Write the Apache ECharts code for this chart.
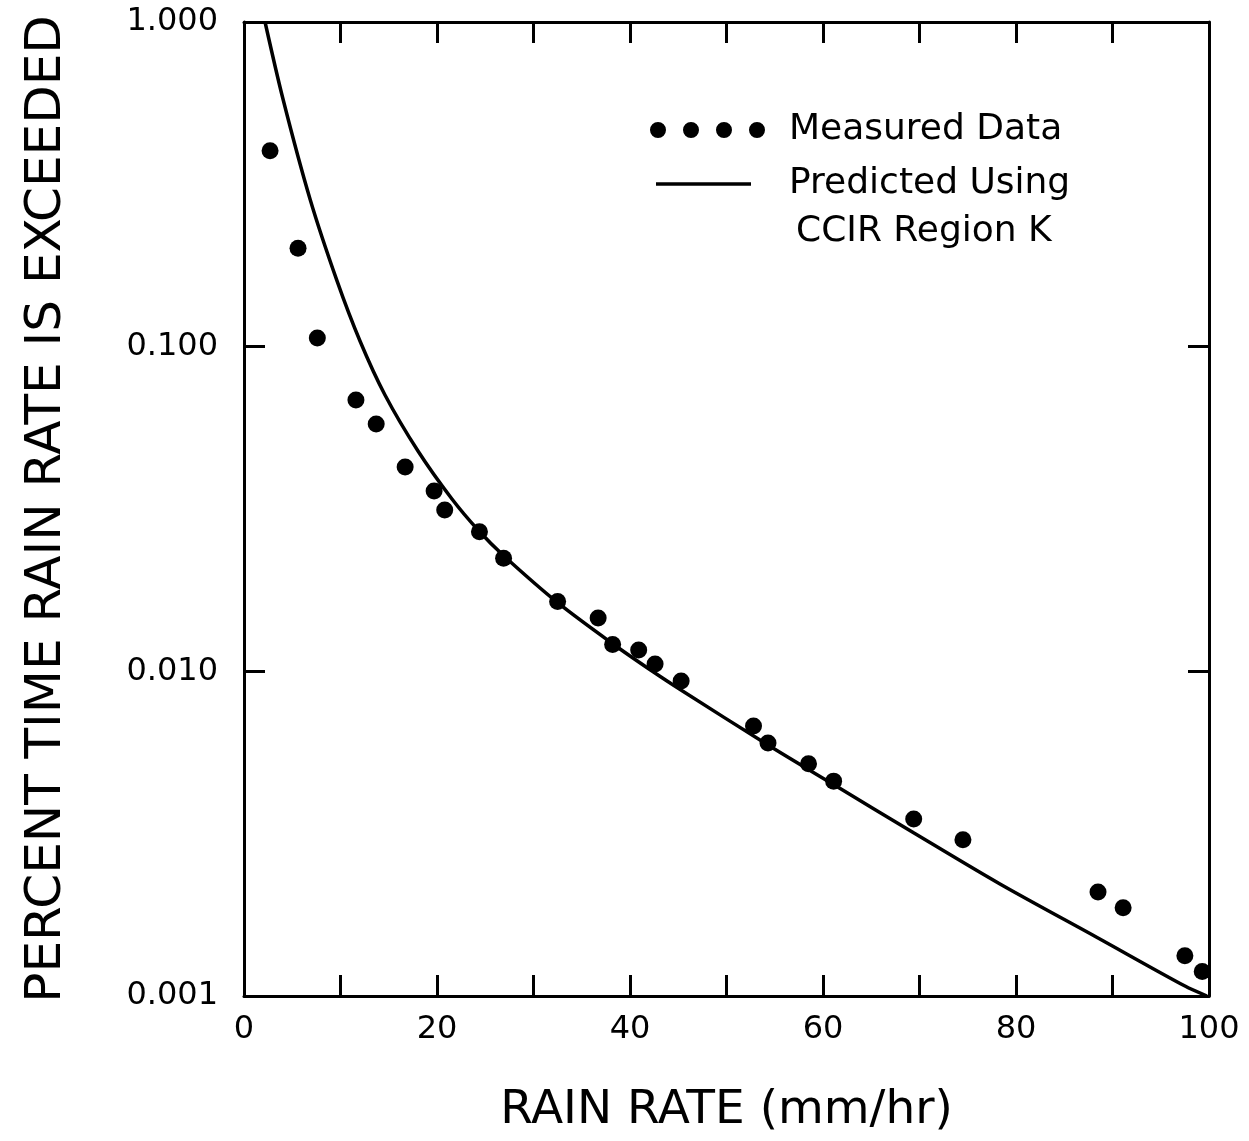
<!DOCTYPE html>
<html>
<head>
<meta charset="utf-8">
<script src="https://cdn.jsdelivr.net/npm/echarts@6/dist/echarts.min.js"></script>
<style>
html,body{margin:0;padding:0;background:#fff;}
#chart{width:1249px;height:1141px;}
</style>
</head>
<body>
<div id="chart"></div>
<script>
// Measured data (rain rate mm/hr, percent time exceeded)
const rainRateMeasured = [2.7, 5.6, 7.6, 11.6, 13.7, 16.7, 19.7, 20.8, 24.4, 26.9, 32.5, 36.7, 38.2, 40.9, 42.6, 45.3, 52.8, 54.3, 58.5, 61.1, 69.4, 74.5, 88.5, 91.1, 97.5, 99.3];
const pctMeasured = [0.401, 0.201, 0.1064, 0.0685, 0.0578, 0.0426, 0.0359, 0.0314, 0.0269, 0.0223, 0.0164, 0.0146, 0.0121, 0.01163, 0.01054, 0.00934, 0.00679, 0.00602, 0.00519, 0.00459, 0.00351, 0.00303, 0.00209, 0.00187, 0.00133, 0.00119];
// Predicted curve (CCIR Region K)
const rainRatePredicted = [2.18, 4.04, 6.84, 9.64, 12.02, 14.61, 18.03, 21.55, 24.35, 26.94, 32.54, 38.24, 42.59, 45.28, 54.30, 61.14, 69.43, 78.34, 88.50, 97.51, 99.79];
const pctPredicted = [1.0, 0.579, 0.285, 0.1594, 0.1041, 0.0710, 0.04772, 0.03395, 0.02705, 0.02266, 0.01624, 0.01214, 0.00988, 0.00876, 0.00593, 0.00447, 0.003177, 0.002213, 0.001509, 0.001073, 0.001];
// Tick labels
const xTickLabels = [0, 20, 40, 60, 80, 100];
const yTickLabels = ['1.000', '0.100', '0.010', '0.001'];
const seriesNames = ['Measured Data', 'Predicted Using'];
const legendSecondLine = 'CCIR Region K';
const xAxisName = 'RAIN RATE (mm/hr)';
const yAxisName = 'PERCENT TIME RAIN RATE IS EXCEEDED';

const FONT = 'DejaVu Sans';
const measured = rainRateMeasured.map((x, i) => [x, pctMeasured[i]]);
const predicted = rainRatePredicted.map((x, i) => [x, pctPredicted[i]]);

const yLabelFor = v => {
  const e = Math.round(-Math.log10(v));
  return yTickLabels[e] !== undefined ? yTickLabels[e] : '';
};

const chart = echarts.init(document.getElementById('chart'));
const mkLine = () => ({ show: true, onZero: false, lineStyle: { color: '#000', width: 3 } });
const mkTick = () => ({ show: true, inside: true, length: 21, lineStyle: { color: '#000', width: 3 } });

chart.setOption({
  animation: false,
  backgroundColor: '#fff',
  grid: { left: 244, right: 40, top: 22, bottom: 145, containLabel: false },
  xAxis: [
    {
      type: 'value', position: 'bottom', min: 0, max: 100, interval: 10,
      axisLine: mkLine(), axisTick: mkTick(), splitLine: { show: false },
      axisLabel: {
        margin: 18, fontSize: 32, fontFamily: FONT, color: '#000',
        formatter: v => (xTickLabels.indexOf(v) >= 0 ? String(v) : '')
      },
      name: xAxisName, nameLocation: 'middle', nameGap: 91,
      nameTextStyle: { fontSize: 47, fontFamily: FONT, color: '#000' }
    },
    {
      type: 'value', position: 'top', min: 0, max: 100, interval: 10,
      axisLine: mkLine(), axisTick: mkTick(), splitLine: { show: false }, axisLabel: { show: false }
    }
  ],
  yAxis: [
    {
      type: 'log', logBase: 10, min: 0.001, max: 1, position: 'left',
      axisLine: mkLine(), axisTick: mkTick(), splitLine: { show: false }, minorTick: { show: false },
      axisLabel: { margin: 26, fontSize: 32, fontFamily: FONT, color: '#000', formatter: yLabelFor },
      name: yAxisName, nameLocation: 'middle', nameGap: 172, nameRotate: 90,
      nameTextStyle: { fontSize: 50, fontFamily: FONT, color: '#000' }
    },
    {
      type: 'log', logBase: 10, min: 0.001, max: 1, position: 'right',
      axisLine: mkLine(), axisTick: mkTick(), splitLine: { show: false }, axisLabel: { show: false }
    }
  ],
  legend: [
    {
      left: 645, top: 107, itemWidth: 115, itemHeight: 16,
      textStyle: { fontSize: 36, fontFamily: FONT, color: '#000', padding: [0, 0, 0, 19] },
      data: [
        { name: seriesNames[0], icon: 'path://M0,8a8,8 0 1,0 16,0a8,8 0 1,0 -16,0Z M33,8a8,8 0 1,0 16,0a8,8 0 1,0 -16,0Z M66,8a8,8 0 1,0 16,0a8,8 0 1,0 -16,0Z M99,8a8,8 0 1,0 16,0a8,8 0 1,0 -16,0Z' }
      ]
    },
    {
      left: 651, top: 161, itemWidth: 95, itemHeight: 3.5,
      textStyle: { fontSize: 36, fontFamily: FONT, color: '#000', padding: [0, 0, 0, 33] },
      data: [ { name: seriesNames[1], icon: 'rect' } ]
    }
  ],
  graphic: [
    { type: 'text', left: 796, top: 214, style: { text: legendSecondLine, fontSize: 36, fontFamily: FONT, fill: '#000' } }
  ],
  series: [
    {
      name: seriesNames[0], type: 'scatter', data: measured,
      symbol: 'circle', symbolSize: 17, itemStyle: { color: '#000', opacity: 1 }, z: 3
    },
    {
      name: seriesNames[1], type: 'line', data: predicted, smooth: 0.3,
      showSymbol: false, symbol: 'none', clip: true,
      lineStyle: { color: '#000', width: 3.5 }, itemStyle: { color: '#000' }, z: 2
    }
  ]
});
</script>
</body>
</html>
